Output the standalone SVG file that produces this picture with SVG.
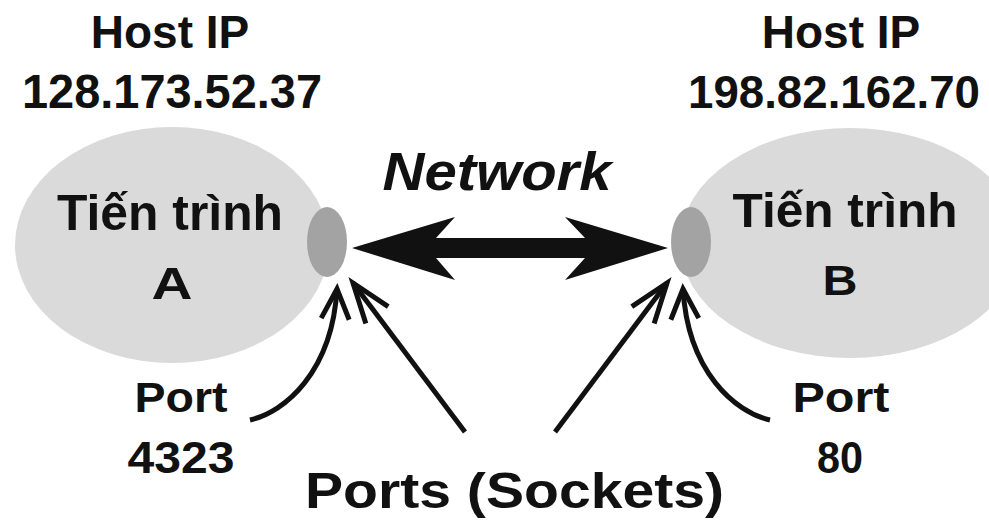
<svg xmlns="http://www.w3.org/2000/svg" width="989" height="520" viewBox="0 0 989 520">
  <style>
    .t { font-family: "Liberation Sans", Arial, sans-serif; font-weight: bold; fill: #111; }
    .big { fill: #dadada; }
    .port { fill: #a3a3a3; }
    .ln { fill: none; stroke: #111; stroke-width: 5; }
  </style>
  <defs>
    <marker id="headL" markerUnits="userSpaceOnUse" viewBox="-50 -25 60 50" markerWidth="60" markerHeight="50" refX="0" refY="0" orient="auto" overflow="visible">
      <path d="M-40,-14 L0,0 L-40,14" fill="none" stroke="#111" stroke-width="5" stroke-linejoin="miter"/>
    </marker>
    <marker id="headS" markerUnits="userSpaceOnUse" viewBox="-40 -20 50 40" markerWidth="50" markerHeight="40" refX="0" refY="0" orient="auto" overflow="visible">
      <path d="M-30,-14 L0,0 L-30,14" fill="none" stroke="#111" stroke-width="5" stroke-linejoin="miter"/>
    </marker>
  </defs>
  <rect width="989" height="520" fill="#fff"/>

  <g id="hostA">
    <text class="t" x="170" y="48" font-size="46" text-anchor="middle">Host IP</text>
    <text class="t" x="172" y="108" font-size="48" text-anchor="middle" textLength="300" lengthAdjust="spacingAndGlyphs">128.173.52.37</text>
  </g>
  <g id="hostB">
    <text class="t" x="841" y="48" font-size="46" text-anchor="middle">Host IP</text>
    <text class="t" x="688" y="108" font-size="46" textLength="292" lengthAdjust="spacingAndGlyphs">198.82.162.70</text>
  </g>

  <g id="processA">
    <ellipse class="big" cx="172" cy="245" rx="157" ry="118"/>
    <text class="t" x="170" y="230" font-size="50" text-anchor="middle" textLength="226" lengthAdjust="spacingAndGlyphs">Tiến trình</text>
    <text class="t" x="172" y="299" font-size="44" text-anchor="middle" textLength="41" lengthAdjust="spacingAndGlyphs">A</text>
  </g>
  <g id="processB">
    <ellipse class="big" cx="850" cy="243" rx="170" ry="115"/>
    <text class="t" x="845" y="227" font-size="49" text-anchor="middle" textLength="225" lengthAdjust="spacingAndGlyphs">Tiến trình</text>
    <text class="t" x="840" y="295" font-size="42" text-anchor="middle" textLength="35" lengthAdjust="spacingAndGlyphs">B</text>
  </g>

  <g id="socketA">
    <ellipse class="port" cx="327" cy="242" rx="20" ry="35"/>
  </g>
  <g id="socketB">
    <ellipse class="port" cx="691" cy="242" rx="20" ry="35"/>
  </g>

  <g id="network">
    <text class="t" x="497" y="190" font-size="53" font-style="italic" text-anchor="middle" textLength="229" lengthAdjust="spacingAndGlyphs">Network</text>
  </g>

  <g id="portA">
    <text class="t" x="181" y="412" font-size="42" text-anchor="middle" textLength="93" lengthAdjust="spacingAndGlyphs">Port</text>
    <text class="t" x="181" y="473" font-size="45" text-anchor="middle" textLength="107" lengthAdjust="spacingAndGlyphs">4323</text>
  </g>
  <g id="portB">
    <text class="t" x="841" y="412" font-size="42" text-anchor="middle" textLength="97" lengthAdjust="spacingAndGlyphs">Port</text>
    <text class="t" x="840" y="473" font-size="45" text-anchor="middle" textLength="46" lengthAdjust="spacingAndGlyphs">80</text>
  </g>
  <g id="sockets">
    <text class="t" x="305" y="508" font-size="50" textLength="419" lengthAdjust="spacingAndGlyphs">Ports (Sockets)</text>
  </g>

  <g id="connectors">
    <path d="M352,248 L455,217 L436,238 L585,238 L565,217 L668,248 L565,280 L585,258 L436,258 L455,280 Z" fill="#111"/>
    <path class="ln" d="M250,420 C285,412 332,372 337,289" marker-end="url(#headS)"/>
    <path class="ln" d="M770,420 C735,412 688,372 683,289" marker-end="url(#headS)"/>
    <path class="ln" d="M465,432 L353,283" marker-end="url(#headL)"/>
    <path class="ln" d="M555,432 L667,283" marker-end="url(#headL)"/>
  </g>
</svg>
